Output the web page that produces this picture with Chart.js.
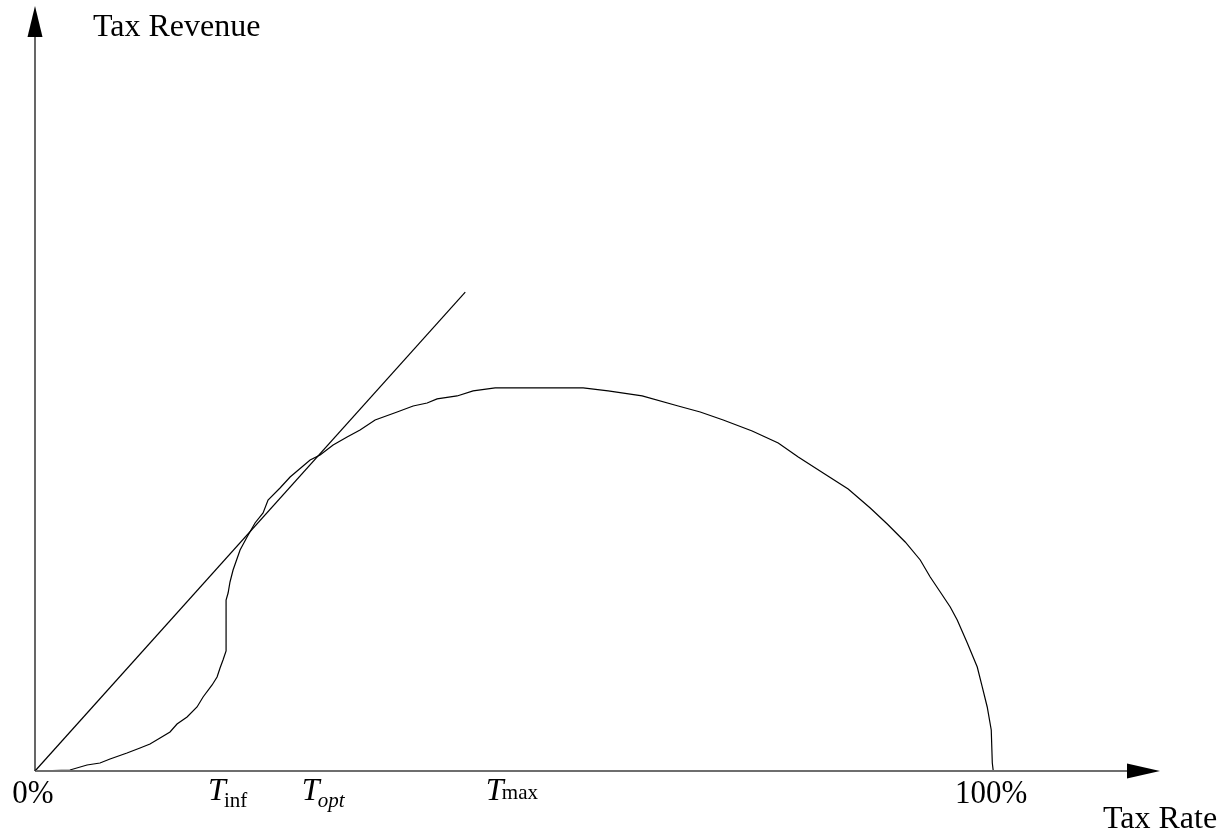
<!DOCTYPE html>
<html>
<head>
<meta charset="utf-8">
<script src="https://cdn.jsdelivr.net/npm/chart.js@4.4.1/dist/chart.umd.min.js"></script>
<style>
  html, body { margin: 0; padding: 0; background: #fff; }
  #wrap { width: 1223px; height: 830px; }
</style>
</head>
<body>
<div id="wrap"><canvas id="laffer" width="1223" height="830"></canvas></div>
<script>
// tax rate in %, revenue in arbitrary units (peak ~ 100)
const curveRate = [0, 3.65, 5.43, 6.78, 7.83, 9.60, 10.96, 12.00, 13.05, 14.09, 14.82, 15.87, 16.91,
  17.54, 18.48, 19.00, 19.31, 19.62, 19.94, 19.94, 20.15, 20.35, 20.67, 21.40, 22.13, 22.96, 23.80,
  24.32, 25.57, 26.62, 28.71, 29.75, 31.11, 32.57, 33.92, 35.49, 37.79, 39.46, 40.92, 41.96, 44.05,
  45.72, 48.02, 57.20, 59.81, 63.36, 67.12, 69.42, 71.82, 74.84, 77.56, 79.65, 82.25, 84.86, 87.16,
  88.94, 90.81, 92.38, 93.42, 94.47, 95.51, 96.24, 97.29, 98.33, 98.85, 99.37, 99.79, 99.90, 100];
const curveRevenue = [0, 0.26, 1.56, 2.08, 3.13, 4.69, 5.99, 7.03, 8.59, 10.16, 12.24, 14.06, 16.67,
  19.27, 22.40, 24.48, 26.82, 28.91, 31.25, 44.53, 46.35, 49.22, 52.34, 57.55, 60.94, 64.58, 67.19,
  70.57, 73.70, 76.56, 80.99, 82.29, 84.90, 86.98, 88.80, 91.41, 93.49, 95.05, 95.83, 96.88, 97.66,
  98.96, 99.74, 99.74, 98.96, 97.66, 95.05, 93.49, 91.41, 88.54, 85.42, 81.77, 77.60, 73.44, 68.49,
  64.32, 59.64, 54.95, 50.52, 46.61, 42.71, 39.32, 33.33, 27.08, 21.88, 16.67, 10.68, 2.08, 0];
const tangentRate = [0, 44.9];
const tangentRevenue = [0, 124.7];
const xMax = 117.4;
const yMax = 199.2;
const rateTicks = [
  { v: 0, main: "0%", sub: "", subItalic: false },
  { v: 19.3, main: "T", sub: "inf", subItalic: false },
  { v: 29.1, main: "T", sub: "opt", subItalic: true },
  { v: 48.3, main: "T", sub: "max", subItalic: false },
  { v: 100, main: "100%", sub: "", subItalic: false }
];
const xTitle = "Tax Rate";
const yTitle = "Tax Revenue";

const toPts = (xs, ys) => xs.map((x, i) => ({ x: x, y: ys[i] }));

const serif = "'Liberation Serif', 'DejaVu Serif', serif";

// axes with arrow heads + labels
const axesPlugin = {
  id: "axesArrows",
  afterDatasetsDraw(chart) {
    const ctx = chart.ctx;
    const sx = chart.scales.x, sy = chart.scales.y;
    const x0 = sx.getPixelForValue(0), y0 = sy.getPixelForValue(0);
    const xEnd = sx.getPixelForValue(xMax), yEnd = sy.getPixelForValue(yMax);
    ctx.save();

    // x axis
    ctx.strokeStyle = "#6e6e6e";
    ctx.lineWidth = 2;
    ctx.beginPath();
    ctx.moveTo(x0, y0);
    ctx.lineTo(xEnd - 30, y0);
    ctx.stroke();
    ctx.fillStyle = "#000";
    ctx.beginPath();
    ctx.moveTo(xEnd, y0);
    ctx.lineTo(xEnd - 33, y0 - 7.5);
    ctx.lineTo(xEnd - 33, y0 + 7.5);
    ctx.closePath();
    ctx.fill();

    // y axis
    ctx.strokeStyle = "#000";
    ctx.lineWidth = 1.2;
    ctx.beginPath();
    ctx.moveTo(x0, y0);
    ctx.lineTo(x0, yEnd + 28);
    ctx.stroke();
    ctx.beginPath();
    ctx.moveTo(x0, yEnd);
    ctx.lineTo(x0 - 7.5, yEnd + 31);
    ctx.lineTo(x0 + 7.5, yEnd + 31);
    ctx.closePath();
    ctx.fill();

    // titles
    ctx.fillStyle = "#000";
    ctx.textBaseline = "alphabetic";
    ctx.textAlign = "left";
    ctx.font = "32px " + serif;
    ctx.fillText(yTitle, 93, 36);
    ctx.fillText(xTitle, 1103, 828);

    // tick labels
    rateTicks.forEach(t => {
      const px = sx.getPixelForValue(t.v);
      if (!t.sub) {
        // percent labels look a bit taller than wide in the original
        ctx.save();
        ctx.font = "31px " + serif;
        ctx.textAlign = "center";
        ctx.translate(t.v === 0 ? 33 : px - 2, 803);
        ctx.scale(1, 1.12);
        ctx.fillText(t.main, 0, 0);
        ctx.restore();
      } else {
        ctx.textAlign = "left";
        ctx.font = "italic 32px " + serif;
        const left = px - 12;
        ctx.fillText(t.main, left, 800);
        ctx.font = (t.subItalic ? "italic " : "") + "21px " + serif;
        ctx.fillText(t.sub, left + 16, t.sub === "max" ? 799 : 807);
      }
    });
    ctx.restore();
  }
};

new Chart(document.getElementById("laffer"), {
  type: "scatter",
  data: {
    datasets: [
      {
        data: toPts(curveRate, curveRevenue),
        showLine: true,
        borderColor: "#000",
        borderWidth: 1.2,
        pointRadius: 0,
        tension: 0,
        clip: false
      },
      {
        data: toPts(tangentRate, tangentRevenue),
        showLine: true,
        borderColor: "#000",
        borderWidth: 1.2,
        pointRadius: 0,
        clip: false
      }
    ]
  },
  options: {
    responsive: false,
    animation: false,
    devicePixelRatio: 1,
    layout: { padding: { left: 35, right: 63, top: 6, bottom: 59 } },
    plugins: { legend: { display: false }, tooltip: { enabled: false } },
    scales: {
      x: { type: "linear", min: 0, max: xMax, display: false },
      y: { type: "linear", min: 0, max: yMax, display: false }
    }
  },
  plugins: [axesPlugin]
});
</script>
</body>
</html>
